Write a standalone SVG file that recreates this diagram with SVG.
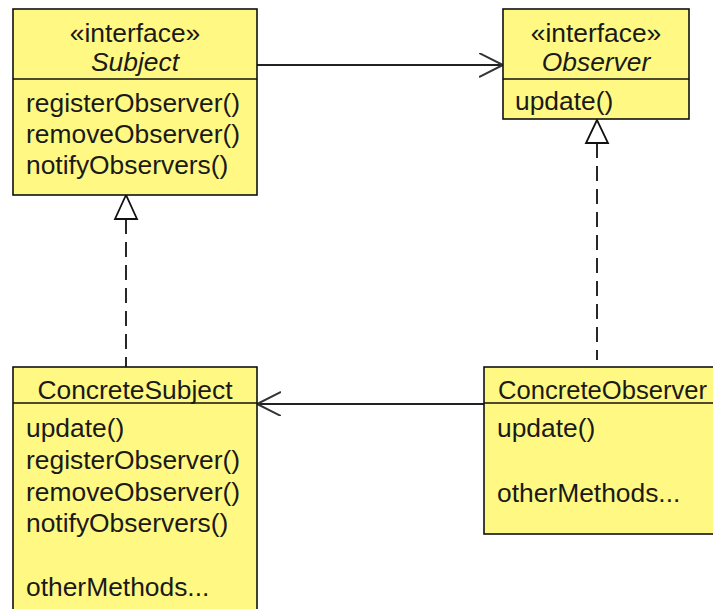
<svg xmlns="http://www.w3.org/2000/svg" width="713" height="609" viewBox="0 0 713 609">
<defs>
<marker id="open" markerWidth="30" markerHeight="30" refX="24" refY="12" orient="auto" markerUnits="userSpaceOnUse">
<path d="M0,0 L24,12 L0,24" fill="none" stroke="#333" stroke-width="2"/>
</marker>
</defs>
<style>
.box{fill:#FFF983;stroke:#111;stroke-width:1.6}
.div{stroke:#111;stroke-width:1.6}
text{font-family:"Liberation Sans",Arial,sans-serif;font-size:26.4px;fill:#1a1a1a}
.c{text-anchor:middle}
.i{font-style:italic}
.line{stroke:#222;stroke-width:1.8;fill:none}
.dash{stroke:#111;stroke-width:1.8;stroke-dasharray:15 8;fill:none}
.tri{fill:#fff;stroke:#111;stroke-width:1.8}
</style>
<rect width="713" height="609" fill="#fff"/>
<g id="connectors">
<line class="line" x1="257" y1="65" x2="503" y2="65" marker-end="url(#open)"/>
<line class="line" x1="484" y1="404" x2="257" y2="404" marker-end="url(#open)"/>
<line class="dash" x1="126" y1="219" x2="126" y2="367"/>
<polygon class="tri" points="126,195 115,219 137,219"/>
<line class="dash" x1="597" y1="143" x2="597" y2="360"/>
<polygon class="tri" points="597,120 586,143 608,143"/>
</g>
<g id="Subject">
<rect class="box" x="13" y="9" width="244" height="186"/>
<line class="div" x1="13" y1="79" x2="257" y2="79"/>
<text class="c" x="135" y="42">«interface»</text>
<text class="c i" x="135" y="71">Subject</text>
<text x="26" y="112">registerObserver()</text>
<text x="26" y="143">removeObserver()</text>
<text x="26" y="174">notifyObservers()</text>
</g>
<g id="Observer">
<rect class="box" x="503" y="9" width="186" height="110"/>
<line class="div" x1="503" y1="79" x2="689" y2="79"/>
<text class="c" x="596" y="42">«interface»</text>
<text class="c i" x="596" y="71">Observer</text>
<text x="515" y="110">update()</text>
</g>
<g id="ConcreteSubject">
<rect class="box" x="13" y="367" width="244" height="260"/>
<line class="div" x1="13" y1="403" x2="257" y2="403"/>
<text class="c" x="135" y="399">ConcreteSubject</text>
<text x="26" y="437">update()</text>
<text x="26" y="469">registerObserver()</text>
<text x="26" y="501">removeObserver()</text>
<text x="26" y="532">notifyObservers()</text>
<text x="26" y="596">otherMethods...</text>
</g>
<g id="ConcreteObserver">
<rect class="box" x="484" y="367" width="250" height="167"/>
<line class="div" x1="484" y1="403" x2="734" y2="403"/>
<text x="498" y="399" style="font-size:25.6px">ConcreteObserver</text>
<text x="497" y="437">update()</text>
<text x="497" y="502">otherMethods...</text>
</g>
</svg>
